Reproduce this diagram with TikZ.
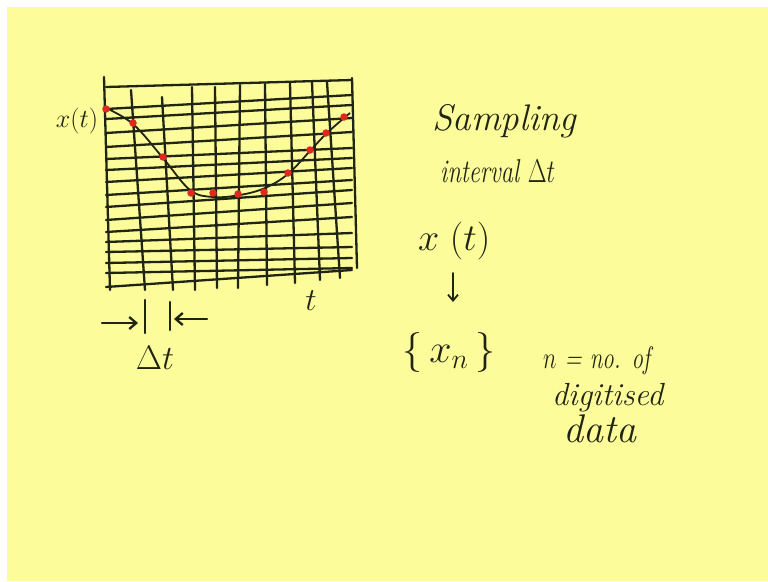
\RequirePackage{fix-cm}
\documentclass[tikz,border=0pt]{standalone}
\usepackage{graphicx}
\usetikzlibrary{arrows.meta}
\definecolor{paper}{RGB}{253,252,155}
\definecolor{ink}{RGB}{32,36,18}
\definecolor{dot}{RGB}{226,40,30}
\newcommand{\fsz}[1]{\fontsize{#1}{#1}\selectfont}
\begin{document}
\begin{tikzpicture}[x=1pt,y=-1pt,
  pen/.style={draw=ink,line width=2.3pt,line cap=round,line join=round},
  hand/.style={text=ink,inner sep=0pt,font=\itshape},
  mathlbl/.style={text=ink,inner sep=0pt},
  sample/.style={circle,fill=dot,inner sep=0pt,minimum size=7.5pt}]
\useasboundingbox (0,0) rectangle (768,581);
\fill[white] (0,0) rectangle (768,581);
\fill[paper] (7,7) rectangle (768,581);
% grid: horizontal lines (left y, right y)
\foreach \a/\b in {87/80,109/95,119/105,133/118,147/132,159/148,170/158,182/168,195/180,207/190,220/203,232/217,242/233,252/247,263/258,273/268,287/270}
  \draw[pen] (106,\a) -- (352,\b);
% grid: vertical lines
\foreach \xa/\ya/\xb/\yb in {104/77/110/290,131/90/145/290,162/97/173/290,192/87/195/290,215/87/217/288,240/85/238/288,265/84/267/285,290/83/295/283,312/82/320/280,327/82/340/278,352/78/357/268}
  \draw[pen] (\xa,\ya) -- (\xb,\yb);
% signal curve
\draw[draw=ink,line width=1.8pt] plot[smooth,tension=0.6] coordinates {(104,107) (133,124) (163,158) (190,190) (213,197) (240,195) (265,188) (288,174) (310,151) (327,133) (350,113)};
% samples
\foreach \p/\q [count=\i] in {106/109,133/123,163/157,191/193,213/193,238/194,264/192,288/173,310/150,326/133,344/117}
  \node[sample] (s\i) at (\p,\q) {};
% labels on the graph
\node[mathlbl,font=\fsz{26}] (xtl) at (77,121) {$x(t)$};
\node[mathlbl,font=\fsz{32}] (tl) at (311,301) {$t$};
% Delta t marker
\coordinate (b1t) at (145,300); \coordinate (b1b) at (145,333);
\coordinate (b2t) at (170,302); \coordinate (b2b) at (170,330);
\draw[pen] (b1t) -- (b1b);
\draw[pen] (b2t) -- (b2b);
\coordinate (a1s) at (102,323); \coordinate (a1e) at (138,323);
\coordinate (a2s) at (207,319); \coordinate (a2e) at (174,319);
\draw[pen,-{Straight Barb[length=7pt,width=12pt]}] (a1s) -- (a1e);
\draw[pen,-{Straight Barb[length=7pt,width=12pt]}] (a2s) -- (a2e);
\node[mathlbl,font=\fsz{34}] (dtl) at (155,358) {$\Delta t$};
% right-hand notes
\node[hand,font=\fsz{37}\itshape,anchor=base west] (samp) at (432,130) {Sampling};
\node[hand,font=\fsz{33}\itshape,anchor=base west] (intv) at (440,182) {\scalebox{0.74}[1]{interval $\Delta t$}};
\node[mathlbl,font=\fsz{38},anchor=base west] (xt2) at (418,250) {$x\;(t)$};
\node[mathlbl,font=\fsz{40}] (xn) at (449,352) {$\{\,x_n\,\}$};
\draw[pen,line width=1.8pt,-{Straight Barb[length=6pt,width=10pt]}] (453,273) -- (453,302);
\node[hand,font=\fsz{31}\itshape,anchor=base west] (ndef) at (543,368) {\scalebox{0.74}[1]{$n$ = no. of}};
\node[hand,font=\fsz{32}\itshape,anchor=base west] (digi) at (552,405) {digitised};
\node[hand,font=\fsz{40}\itshape,anchor=base west] (data) at (563,442) {data};
\end{tikzpicture}
\end{document}
